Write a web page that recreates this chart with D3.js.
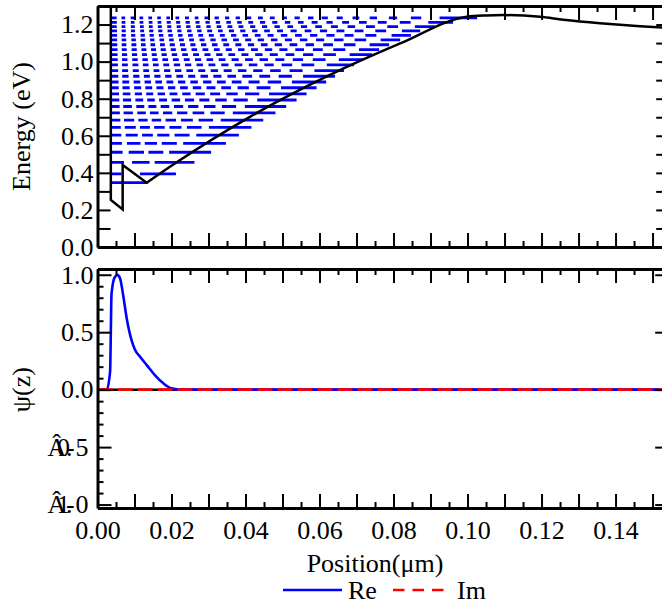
<!DOCTYPE html>
<html><head><meta charset="utf-8">
<script src="https://cdn.jsdelivr.net/npm/d3@7"></script>
<style>
body{margin:0;background:#fff}
svg text{font-family:"Liberation Serif","LiberationSerif","Tinos","Times New Roman","Times","DejaVu Serif",serif;}
</style></head><body>
<svg id="c" width="662" height="605"></svg>
<script>
// ---------------- data ----------------
const potWallX = [0, 0.0036, 0.0036, 0.0068, 0.0068, 0.0133];
const potWallE = [3.0, 3.0, 0.254, 0.203, 0.442, 0.347];
const potRampX = [0.0133, 0.0214, 0.0412, 0.0628, 0.0818, 0.0998, 0.1050, 0.1097, 0.1196, 0.1259, 0.1358, 0.1403, 0.1526, 0.1545];
const potRampE = [0.347, 0.457, 0.702, 0.928, 1.098, 1.242, 1.249, 1.251, 1.242, 1.226, 1.207, 1.200, 1.184, 1.182];
const levelE = [0.347, 0.394, 0.457, 0.511, 0.559, 0.603, 0.645, 0.684, 0.723, 0.758, 0.793, 0.826, 0.859, 0.890, 0.921, 0.951, 0.982, 1.011, 1.038, 1.065, 1.091, 1.117, 1.142, 1.166, 1.189, 1.212, 1.236];
const levelEnd = [0.01365, 0.0212, 0.0262, 0.0307, 0.0347, 0.0382, 0.0416, 0.0448, 0.0481, 0.0510, 0.0538, 0.0565, 0.0592, 0.0618, 0.0642, 0.0666, 0.0693, 0.0718, 0.0742, 0.0761, 0.0788, 0.0818, 0.0847, 0.0872, 0.0912, 0.0961, 0.1026];
const levelStart = 0.0036;
const psiX  = [0, 0.0025, 0.0034, 0.0038, 0.0047, 0.0054, 0.0061, 0.0070, 0.0079, 0.0092, 0.0101, 0.0115, 0.0133, 0.0155, 0.0178, 0.0200, 0.0228, 0.1545];
const psiRe = [0, 0, 0.156, 0.837, 0.980, 0.997, 0.968, 0.808, 0.620, 0.431, 0.350, 0.286, 0.214, 0.127, 0.055, 0.011, 0, 0];
const psiImX = [0, 0.1545];
const psiIm  = [0, 0];
const xTickLabels = ["0.00","0.02","0.04","0.06","0.08","0.10","0.12","0.14"];
const eTickLabels = ["0.0","0.2","0.4","0.6","0.8","1.0","1.2"];
const psiTickLabels = ["Â\u00AD1.0","Â\u00AD0.5","0.0","0.5","1.0"];
const legendLabels = ["Re","Im"];

// ---------------- scales ----------------
const FONT = '"Liberation Serif","LiberationSerif","Tinos","Times New Roman","Times","DejaVu Serif",serif';
const svg = d3.select("#c");
const x  = d3.scaleLinear().domain([0, 0.1545]).range([97.5, 669.2]);
const yE = d3.scaleLinear().domain([0, 1.3]).range([247, 6]);
const yP = d3.scaleLinear().domain([-1.03, 1.05]).range([508, 269]);
const FS = 26;

const defs = svg.append("defs");
defs.append("clipPath").attr("id","clipTop").append("rect")
  .attr("x", x(0)).attr("y", yE(1.3)).attr("width", x(0.1545)-x(0)).attr("height", yE(0)-yE(1.3));
defs.append("clipPath").attr("id","clipBot").append("rect")
  .attr("x", x(0)).attr("y", yP(1.05)).attr("width", x(0.1545)-x(0)).attr("height", yP(-1.03)-yP(1.05));

// ---------------- potential helper (for level dash gaps at nodes) ----------------
const allX = potWallX.concat(potRampX.slice(1));
const allE = potWallE.concat(potRampE.slice(1));
function V(xv){
  for (let i=0;i<allX.length-1;i++){
    if (allX[i+1]>allX[i] && xv>=allX[i] && xv<=allX[i+1])
      return allE[i]+(allE[i+1]-allE[i])*(xv-allX[i])/(allX[i+1]-allX[i]);
  }
  return allE[allE.length-1];
}

// ---------------- top panel ----------------
const gTop = svg.append("g").attr("clip-path","url(#clipTop)");
levelE.forEach((E,i)=>{
  const n=i+1, N=1200, xs=levelStart, xe=levelEnd[i];
  const phi=[0];
  for(let j=1;j<=N;j++){
    const xm = xs+(xe-xs)*(j-0.5)/N;
    phi.push(phi[j-1]+Math.sqrt(Math.max(E-V(xm),0)));
  }
  const tot=phi[N];
  const g=(0.2+0.4*i/26)*Math.PI/2;
  const vis=[];
  for(let j=0;j<N;j++){
    const th=(phi[j]+phi[j+1])/2/tot*(n-0.25)*Math.PI;
    let v=true;
    for(let k=1;k<n;k++){ if(Math.abs(th-k*Math.PI)<g){v=false;break;} }
    vis.push(v);
  }
  const L=x(xe)-x(xs), step=L/N;
  const dash=[]; let cur=vis[0], run=0;
  if(!cur) dash.push(0);
  vis.forEach(v=>{ if(v===cur) run+=step; else { dash.push(run); cur=v; run=step; } });
  dash.push(run); if(dash.length%2===1) dash.push(0.0001);
  gTop.append("line")
    .attr("x1", x(xs)).attr("x2", x(xe)).attr("y1", yE(E)).attr("y2", yE(E))
    .attr("stroke","#0000ff").attr("stroke-width",2.8)
    .attr("stroke-dasharray", n===1? null : dash.map(d=>d.toFixed(2)).join(","));
});

const wallPts = potWallX.map((d,i)=>[d, potWallE[i]]);
const rampPts = potRampX.map((d,i)=>[d, potRampE[i]]);
gTop.append("path").datum(wallPts)
  .attr("d", d3.line().x(d=>x(d[0])).y(d=>yE(d[1])))
  .attr("fill","none").attr("stroke","#000").attr("stroke-width",2.5).attr("stroke-linejoin","miter");
gTop.append("path").datum(rampPts)
  .attr("d", d3.line().x(d=>x(d[0])).y(d=>yE(d[1])).curve(d3.curveMonotoneX))
  .attr("fill","none").attr("stroke","#000").attr("stroke-width",2.5);

// ---------------- bottom panel ----------------
const gBot = svg.append("g").attr("clip-path","url(#clipBot)");
gBot.append("line").attr("x1",x(0)).attr("x2",x(0.1545)).attr("y1",yP(0)).attr("y2",yP(0))
  .attr("stroke","#000").attr("stroke-width",2.5);
const rePts = psiX.map((d,i)=>[d, psiRe[i]]);
gBot.append("path").datum(rePts)
  .attr("d", d3.line().x(d=>x(d[0])).y(d=>yP(d[1])).curve(d3.curveMonotoneX))
  .attr("fill","none").attr("stroke","#0000ff").attr("stroke-width",2.6);
const imPts = psiImX.map((d,i)=>[d, psiIm[i]]);
gBot.append("path").datum(imPts)
  .attr("d", d3.line().x(d=>x(d[0])).y(d=>yP(d[1])))
  .attr("fill","none").attr("stroke","#ff0000").attr("stroke-width",2.6).attr("stroke-dasharray","15,5");

// ---------------- axes ----------------
const xMaj = d3.range(0,16).map(i=>i/100);
const xMin = d3.range(0,15).map(i=>(2*i+1)/200).filter(d=>d<=0.1545);
function styleAxis(g, lw){
  g.attr("font-family",FONT).attr("font-size",FS);
  g.selectAll("line").attr("stroke","#000").attr("stroke-width",lw);
  g.selectAll("path.domain").attr("stroke","#000").attr("stroke-width",3);
  g.selectAll("text").attr("fill","#000").attr("font-family",FONT);
}
function xAxes(yScale, withLabels){
  const y0=yScale.range()[0], y1=yScale.range()[1];
  const b = svg.append("g").attr("transform",`translate(0,${y0})`)
    .call(d3.axisBottom(x).tickValues(xMaj).tickSize(-14).tickSizeOuter(0).tickPadding(13)
      .tickFormat(d=>{const k=Math.round(d*100); return (withLabels && k%2===0)? xTickLabels[k/2] : "";}));
  styleAxis(b,2);
  const bm = svg.append("g").attr("transform",`translate(0,${y0})`)
    .call(d3.axisBottom(x).tickValues(xMin).tickSize(-6).tickFormat(""));
  bm.select("path.domain").remove(); styleAxis(bm,2);
  const t = svg.append("g").attr("transform",`translate(0,${y1})`)
    .call(d3.axisTop(x).tickValues(xMaj).tickSize(-14).tickSizeOuter(0).tickFormat(""));
  styleAxis(t,2);
  const tm = svg.append("g").attr("transform",`translate(0,${y1})`)
    .call(d3.axisTop(x).tickValues(xMin).tickSize(-6).tickFormat(""));
  tm.select("path.domain").remove(); styleAxis(tm,2);
}
xAxes(yE,false);
xAxes(yP,true);

// energy y axes
const eTicks = d3.range(0,14).map(i=>i/10);
const la = svg.append("g").attr("transform",`translate(${x(0)},0)`)
  .call(d3.axisLeft(yE).tickValues(eTicks).tickSize(-13).tickSizeOuter(0).tickPadding(4)
    .tickFormat(d=>{const k=Math.round(d*10); return k%2===0? eTickLabels[k/2] : "";}));
styleAxis(la,2);
const ra = svg.append("g").attr("transform",`translate(${x(0.1545)},0)`)
  .call(d3.axisRight(yE).tickValues(eTicks).tickSize(-13).tickSizeOuter(0).tickFormat(""));
styleAxis(ra,2);

// psi y axes
const pMaj=[-1,-0.5,0,0.5,1];
const pMin=d3.range(-10,11).filter(i=>i%5!==0).map(i=>i/10);
const lp = svg.append("g").attr("transform",`translate(${x(0)},0)`)
  .call(d3.axisLeft(yP).tickValues(pMaj).tickSize(-14).tickSizeOuter(0).tickPadding(4)
    .tickFormat((d,i)=>psiTickLabels[i]));
styleAxis(lp,2);
lp.selectAll(".tick text").each(function(d,i){
  const s=psiTickLabels[i];
  if(s.indexOf("Â")===0){
    const digits=s.replace("Â","").replace("\u00AD","");
    const chars=["Â","-",digits[0],digits[1],digits[2]];
    d3.select(this).attr("text-anchor","start").text(chars.join(""))
      .attr("x",[-50,-31.5,-40.5,-31.5,-22].join(" "));
  }
});
const lpm = svg.append("g").attr("transform",`translate(${x(0)},0)`)
  .call(d3.axisLeft(yP).tickValues(pMin).tickSize(-6).tickFormat(""));
lpm.select("path.domain").remove(); styleAxis(lpm,2);
const rp = svg.append("g").attr("transform",`translate(${x(0.1545)},0)`)
  .call(d3.axisRight(yP).tickValues(pMaj).tickSize(-14).tickSizeOuter(0).tickFormat(""));
styleAxis(rp,2);
const rpm = svg.append("g").attr("transform",`translate(${x(0.1545)},0)`)
  .call(d3.axisRight(yP).tickValues(pMin).tickSize(-6).tickFormat(""));
rpm.select("path.domain").remove(); styleAxis(rpm,2);

// ---------------- titles ----------------
function title(sel){ return sel.attr("font-family",FONT).attr("font-size",FS).attr("fill","#000"); }
title(svg.append("text").attr("transform",`translate(30,${(yE(0)+yE(1.3))/2}) rotate(-90)`)
  .attr("text-anchor","middle").text("Energy (eV)"));
title(svg.append("text").attr("transform",`translate(30,${yP(0)}) rotate(-90)`)
  .attr("text-anchor","middle").text("ψ(z)"));
title(svg.append("text").attr("x",375).attr("y",572)
  .attr("text-anchor","middle").text("Position(μm)"));

// ---------------- legend ----------------
const lg = svg.append("g");
lg.append("line").attr("x1",283).attr("x2",342).attr("y1",590).attr("y2",590)
  .attr("stroke","#0000ff").attr("stroke-width",2.6);
title(lg.append("text").attr("x",348).attr("y",599).text(legendLabels[0]));
lg.append("line").attr("x1",393).attr("x2",447).attr("y1",590).attr("y2",590)
  .attr("stroke","#ff0000").attr("stroke-width",2.6).attr("stroke-dasharray","11.5,8");
title(lg.append("text").attr("x",457).attr("y",599).text(legendLabels[1]));
</script></body></html>
